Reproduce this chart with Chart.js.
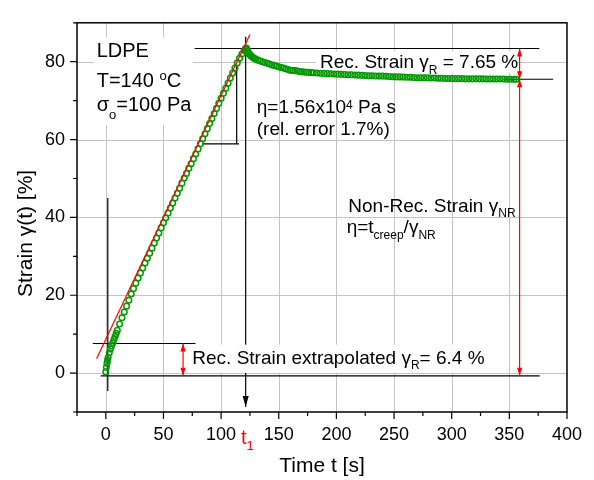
<!DOCTYPE html>
<html>
<head>
<meta charset="utf-8">
<script src="https://cdn.jsdelivr.net/npm/chart.js@4.4.1/dist/chart.umd.min.js"></script>
<style>
  html, body { margin: 0; padding: 0; background: #fff; }
</style>
</head>
<body>
<canvas id="creepChart" width="594" height="480"></canvas>
<script>
// creep phase (stress on)
const creepTime = [0, 0.5, 1, 1.5, 2, 3, 4, 5, 6, 7, 8, 9, 10, 12, 14, 16, 18, 20, 22, 24, 26, 28, 30,
    32, 34, 36, 38, 40, 42, 44, 46, 48, 50, 52, 54, 56, 58, 60, 62, 64, 66, 68, 70, 72, 74, 76, 78, 80,
    82, 84, 86, 88, 90, 92, 94, 96, 98, 100, 102, 104, 106, 108, 110, 112, 114, 116, 118, 120, 121, 122];
const creepStrain = [0.3, 1.5, 2.5, 3.3, 4.0, 5.2, 6.2, 7.0, 7.8, 8.6, 9.4, 10.2, 11.0, 12.6, 14.2, 15.7,
    17.2, 18.7, 20.3, 21.7, 23.1, 24.4, 25.7, 27.0, 28.3, 29.5, 30.8, 32.1, 33.4, 34.7, 36.0, 37.3, 38.6,
    39.9, 41.1, 42.4, 43.7, 45.0, 46.2, 47.5, 48.8, 50.1, 51.3, 52.6, 53.8, 55.1, 56.3, 57.6, 58.9, 60.2,
    61.5, 62.8, 64.1, 65.4, 66.7, 68.0, 69.3, 70.6, 71.9, 73.2, 74.5, 75.8, 77.1, 78.4, 79.7, 80.9, 82.0,
    82.9, 83.3, 83.5];

// recovery phase (stress removed at t1)
const recoveryTime = [122.5, 123, 123.5, 124, 125, 126, 127, 128, 129, 130, 132, 134, 136, 138, 140, 142,
    144, 146, 148, 150, 152, 154, 156, 158, 160, 162, 164, 166, 168, 170, 172, 174, 176, 178, 180, 183,
    186, 189, 192, 195, 198, 201, 204, 207, 210, 213, 216, 219, 222, 225, 228, 231, 234, 237, 240, 243,
    246, 249, 252, 255, 258, 261, 264, 267, 270, 273, 276, 279, 282, 285, 288, 291, 294, 297, 300, 303,
    306, 309, 312, 315, 318, 321, 324, 327, 330, 333, 336, 339, 342, 345, 348, 351, 354, 356];
const recoveryStrain = [83.1, 82.7, 82.4, 82.1, 81.8, 81.5, 81.2, 81.0, 80.8, 80.7, 80.4, 80.2, 80.0, 79.8,
    79.6, 79.4, 79.2, 79.0, 78.9, 78.7, 78.5, 78.4, 78.2, 78.0, 77.8, 77.75, 77.7, 77.6, 77.5, 77.4, 77.35,
    77.3, 77.25, 77.2, 77.15, 77.1, 77.05, 77.0, 76.95, 76.9, 76.85, 76.8, 76.75, 76.7, 76.65, 76.65, 76.6,
    76.55, 76.5, 76.45, 76.4, 76.4, 76.35, 76.3, 76.3, 76.25, 76.2, 76.15, 76.1, 76.1, 76.05, 76.0, 76.0,
    75.95, 75.9, 75.9, 75.85, 75.85, 75.8, 75.8, 75.75, 75.75, 75.7, 75.7, 75.7, 75.65, 75.65, 75.65, 75.6,
    75.6, 75.6, 75.6, 75.6, 75.6, 75.55, 75.55, 75.55, 75.55, 75.55, 75.55, 75.5, 75.5, 75.5, 75.5];

// linear fit of the steady creep part
const fitTime = [-8, 125];
const fitStrain = [3.7, 87];

// black construction lines: [start, end]
const guideTime = [[77, 376], [345, 388], [121.3, 121.3], [83.6, 115.5], [113.5, 113.5],
    [1.7, 1.7], [-11.3, 77.8], [-4.4, 376.3]];
const guideStrain = [[83.4, 83.4], [75.5, 75.5], [86.4, -8.7], [58.9, 58.9], [58.9, 79.3],
    [45.0, -4.6], [7.6, 7.6], [-0.7, -0.7]];
const guideArrowAt = 2; // t1 marker ends in an arrow head

// red double arrows: [start, end]
const spanTime = [[67, 67], [358.9, 358.9], [358.9, 358.9]];
const spanStrain = [[-0.7, 7.6], [75.5, 83.4], [-0.7, 75.5]];

const xTicksMajor = [0, 50, 100, 150, 200, 250, 300, 350, 400];
const yTicksMajor = [0, 20, 40, 60, 80];

const FONT = "'Liberation Sans', Arial, sans-serif";
Chart.defaults.font.family = FONT;
Chart.defaults.color = '#000';

function pairs(ts, vs) {
    return ts.map((t, i) => ({ x: t, y: vs[i] }));
}

// text notes, anchored in data units (left edge, baseline)
const notes = [
    { t: -7.9, v: 81.2, size: 20, parts: ['LDPE'] },
    { t: -7.9, v: 73.6, size: 20, parts: ['T=140 ', ['o', 'sup'], 'C'] },
    { t: -7.9, v: 67.4, size: 20, parts: ['σ', ['o', 'sub', 8], '=100 Pa'] },
    { t: 130.9, v: 66.9, size: 19, parts: ['η=1.56x10', ['4', 'sup', -4], ' Pa s'] },
    { t: 130.9, v: 61.1, size: 19, parts: ['(rel. error 1.7%)'] },
    { t: 185.8, v: 78.4, size: 19, parts: ['Rec. Strain γ', ['R', 'sub'], ' = 7.65 %'] },
    { t: 210.3, v: 41.5, size: 19, parts: ['Non-Rec. Strain γ', ['NR', 'sub']] },
    { t: 208.9, v: 36.0, size: 19, parts: ['η=t', ['creep', 'sub'], '/γ', ['NR', 'sub']] },
    { t: 75.0, v: 2.4, size: 19, parts: ['Rec. Strain extrapolated γ', ['R', 'sub'], '= 6.4 %'] },
    { t: 117.2, v: -18.3, size: 20, parts: ['t', ['1', 'sub']], color: '#ff0000' }
];

// white backgrounds behind some of the notes: [t0, t1, v0, v1]
const noteBoxes = [
    [-10.2, 75.5, 63.7, 86.2],
    [182.3, 355.9, 77.2, 82.7],
    [73.0, 331.5, 0.05, 7.3]
];

function drawRich(ctx, x, y, parts, size, color) {
    ctx.fillStyle = color;
    ctx.textAlign = 'left';
    ctx.textBaseline = 'alphabetic';
    let cx = x;
    parts.forEach(p => {
        let text = p, fs = size, dy = 0;
        if (Array.isArray(p)) {
            text = p[0];
            fs = Math.round(size * 0.65);
            dy = p[1] === 'sub' ? size * 0.3 : -size * 0.35;
            if (p[2] !== undefined) dy = p[2];
        }
        ctx.font = fs + 'px ' + FONT;
        ctx.fillText(text, cx, y + dy);
        cx += ctx.measureText(text).width;
    });
}

function arrowHead(ctx, tipX, tipY, fromX, fromY, len, half, color) {
    const a = Math.atan2(tipY - fromY, tipX - fromX);
    ctx.save();
    ctx.fillStyle = color;
    ctx.translate(tipX, tipY);
    ctx.rotate(a);
    ctx.beginPath();
    ctx.moveTo(0, 0);
    ctx.lineTo(-len, -half);
    ctx.lineTo(-len, half);
    ctx.closePath();
    ctx.fill();
    ctx.restore();
}

// grid at the labelled ticks only
function drawGrid(chart) {
    const { ctx, chartArea: a, scales: { x, y } } = chart;
    ctx.save();
    ctx.strokeStyle = '#c4c4c4';
    ctx.lineWidth = 1;
    ctx.beginPath();
    xTicksMajor.forEach(v => {
        const px = Math.round(x.getPixelForValue(v)) + 0.5;
        if (px > a.left + 1 && px < a.right - 1) {
            ctx.moveTo(px, a.top);
            ctx.lineTo(px, a.bottom);
        }
    });
    yTicksMajor.forEach(v => {
        const py = Math.round(y.getPixelForValue(v)) + 0.5;
        ctx.moveTo(a.left, py);
        ctx.lineTo(a.right, py);
    });
    ctx.stroke();
    ctx.restore();
}

function drawBoxes(chart) {
    const { ctx, scales: { x, y } } = chart;
    ctx.save();
    ctx.fillStyle = '#fff';
    noteBoxes.forEach(b => {
        const x0 = x.getPixelForValue(b[0]), x1 = x.getPixelForValue(b[1]);
        const y0 = y.getPixelForValue(b[3]), y1 = y.getPixelForValue(b[2]);
        ctx.fillRect(x0, y0, x1 - x0, y1 - y0);
    });
    ctx.restore();
}

const annotate = {
    id: 'annotate',
    beforeDatasetsDraw(chart) {
        drawGrid(chart);
    },
    beforeDatasetDraw(chart, args) {
        // boxes go over the guide lines but under the strain data
        if (chart.data.datasets[args.index].label === 'strain') drawBoxes(chart);
    },
    afterDatasetsDraw(chart) {
        const ctx = chart.ctx;
        chart.data.datasets.forEach((ds, i) => {
            if (!ds.arrows) return;
            const pts = chart.getDatasetMeta(i).data;
            const p0 = pts[0], p1 = pts[pts.length - 1];
            const c = ds.borderColor;
            if (ds.arrows === 'both' || ds.arrows === 'end') {
                arrowHead(ctx, p1.x, p1.y, p0.x, p0.y, ds.headLen, ds.headHalf, c);
            }
            if (ds.arrows === 'both') {
                arrowHead(ctx, p0.x, p0.y, p1.x, p1.y, ds.headLen, ds.headHalf, c);
            }
        });
    },
    afterDraw(chart) {
        const { ctx, chartArea: a, scales: { x, y } } = chart;
        ctx.save();
        // frame
        ctx.strokeStyle = '#000';
        ctx.lineWidth = 1.5;
        ctx.strokeRect(a.left, a.top, a.right - a.left, a.bottom - a.top);
        // tick marks, pointing outwards
        ctx.lineWidth = 1.2;
        ctx.beginPath();
        x.ticks.forEach(tk => {
            const px = x.getPixelForValue(tk.value);
            const len = xTicksMajor.includes(tk.value) ? 7 : 4;
            ctx.moveTo(px, a.bottom);
            ctx.lineTo(px, a.bottom + len);
        });
        y.ticks.forEach(tk => {
            const py = y.getPixelForValue(tk.value);
            const len = yTicksMajor.includes(tk.value) ? 7 : 4;
            ctx.moveTo(a.left, py);
            ctx.lineTo(a.left - len, py);
        });
        ctx.stroke();
        // notes
        notes.forEach(n => {
            drawRich(ctx, x.getPixelForValue(n.t), y.getPixelForValue(n.v), n.parts, n.size, n.color || '#000');
        });
        // y axis title
        ctx.translate(26, (a.top + a.bottom) / 2 + 16);
        ctx.rotate(-Math.PI / 2);
        ctx.font = '21px ' + FONT;
        ctx.textAlign = 'center';
        ctx.textBaseline = 'middle';
        ctx.fillStyle = '#000';
        ctx.fillText('Strain γ(t) [%]', 0, 0);
        ctx.restore();
    }
};

const datasets = [
    {
        label: 'strain',
        data: pairs(creepTime, creepStrain).concat(pairs(recoveryTime, recoveryStrain)),
        showLine: false,
        pointStyle: 'circle',
        pointRadius: 2.8,
        pointBorderWidth: 1.5,
        borderColor: '#009900',
        backgroundColor: 'rgba(0,0,0,0)',
        order: 2
    },
    {
        label: 'fit',
        data: pairs(fitTime, fitStrain),
        showLine: true,
        borderColor: '#ff0000',
        borderWidth: 1.2,
        pointRadius: 0,
        order: 0
    }
];

guideTime.forEach((ts, i) => {
    datasets.push({
        label: 'guide' + i,
        data: pairs(ts, guideStrain[i]),
        showLine: true,
        borderColor: '#000',
        borderWidth: 1.2,
        pointRadius: 0,
        arrows: i === guideArrowAt ? 'end' : null,
        headLen: 11,
        headHalf: 3,
        order: 3
    });
});

spanTime.forEach((ts, i) => {
    datasets.push({
        label: 'span' + i,
        data: pairs(ts, spanStrain[i]),
        showLine: true,
        borderColor: '#ff0000',
        borderWidth: 1.2,
        pointRadius: 0,
        arrows: 'both',
        headLen: 8,
        headHalf: 2.6,
        order: 1
    });
});

new Chart(document.getElementById('creepChart'), {
    type: 'scatter',
    data: { datasets: datasets },
    options: {
        responsive: false,
        animation: false,
        events: [],
        layout: { padding: { top: 13, right: 27, left: 0, bottom: 0 } },
        plugins: {
            legend: { display: false },
            tooltip: { enabled: false }
        },
        scales: {
            x: {
                type: 'linear',
                min: -25,
                max: 400,
                ticks: {
                    stepSize: 25,
                    autoSkip: false,
                    maxRotation: 0,
                    padding: 12,
                    font: { size: 18 },
                    color: '#000',
                    callback: v => xTicksMajor.includes(v) ? String(v) : ''
                },
                grid: { display: false, drawTicks: false },
                border: { display: false },
                title: {
                    display: true,
                    text: 'Time t [s]',
                    font: { size: 21 },
                    color: '#000',
                    padding: { top: 0, bottom: 1 }
                },
                afterFit: s => { s.height = 68; }
            },
            y: {
                type: 'linear',
                min: -10,
                max: 90,
                ticks: {
                    stepSize: 10,
                    autoSkip: false,
                    padding: 12,
                    font: { size: 18 },
                    color: '#000',
                    callback: v => yTicksMajor.includes(v) ? String(v) : ''
                },
                grid: { display: false, drawTicks: false },
                border: { display: false },
                afterFit: s => { s.width = 77; }
            }
        }
    },
    plugins: [annotate]
});
</script>
</body>
</html>
